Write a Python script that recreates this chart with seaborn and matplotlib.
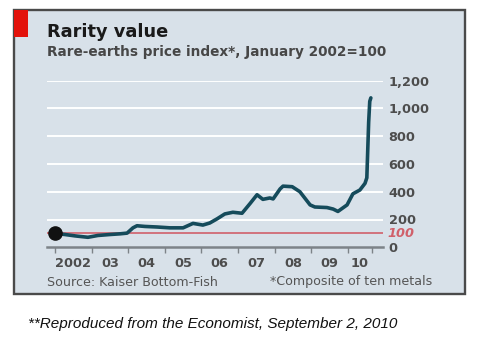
import matplotlib
matplotlib.use("Agg")
import matplotlib.pyplot as plt
import matplotlib.transforms as mtransforms
from matplotlib.patches import Rectangle
import seaborn as sns
import pandas as pd

# Rare-earths price index (January 2002 = 100), read at irregular dates
dates = [2002.00, 2002.27, 2002.55, 2002.90, 2003.17, 2003.50, 2003.78, 2003.97,
         2004.13, 2004.24, 2004.46, 2004.79, 2005.14, 2005.50, 2005.77, 2006.04,
         2006.23, 2006.43, 2006.64, 2006.86, 2007.11, 2007.33, 2007.52, 2007.68,
         2007.87, 2007.96, 2008.15, 2008.23, 2008.48, 2008.69, 2008.97, 2009.10,
         2009.43, 2009.60, 2009.73, 2009.98, 2010.14, 2010.33, 2010.47, 2010.52,
         2010.57, 2010.60, 2010.63]
index_values = [100, 92, 82, 72, 85, 92, 97, 102,
                140, 155, 150, 146, 140, 140, 172, 160,
                175, 205, 240, 252, 245, 315, 378, 345,
                355, 348, 420, 440, 436, 400, 305, 290,
                286, 275, 258, 305, 385, 412, 460, 500,
                900, 1050, 1075]

year_starts = [2002, 2003, 2004, 2005, 2006, 2007, 2008, 2009, 2010]
data_end = 2010.65
year_labels = ["2002", "03", "04", "05", "06", "07", "08", "09", "10"]
y_ticks = [0, 200, 400, 600, 800, 1000, 1200]
y_tick_labels = ["0", "200", "400", "600", "800", "1,000", "1,200"]
base_value = 100

W, H = 479, 342
PANEL = "#d8e1e9"
LINE = "#154b5b"
RED = "#d0606a"
GREY_TXT = "#4d4d4d"

sns.set_theme(style="white")
plt.rcParams["font.family"] = ["DejaVu Sans"]

fig = plt.figure(figsize=(W / 100, H / 100), dpi=100, facecolor="white")


def fx(px):
    return px / W


def fy(py):
    return 1 - py / H


# framed panel with red corner tab
fig.patches.append(Rectangle((fx(14), fy(294)), fx(451), (294 - 10) / H,
                             transform=fig.transFigure, facecolor=PANEL,
                             edgecolor="#4a4a4a", linewidth=1.7, zorder=-2))
fig.patches.append(Rectangle((fx(14), fy(37)), fx(14), 27 / H,
                             transform=fig.transFigure, facecolor="#e3120b",
                             edgecolor="none", zorder=-1))

ax = fig.add_axes([fx(47), fy(247.3), (383 - 47) / W, (247.3 - 80.5) / H])
ax.set_facecolor("none")
ax.set_zorder(1)

df = pd.DataFrame({"year": dates, "index": index_values})

# gridlines
for v in y_ticks[1:]:
    ax.axhline(v, color="white", lw=1.4, zorder=1)
ax.axhline(base_value, color=RED, lw=1.2, zorder=2)

sns.lineplot(data=df, x="year", y="index", ax=ax, color=LINE, lw=2.6,
             zorder=4, solid_joinstyle="round", solid_capstyle="round")
ax.plot([dates[0]], [index_values[0]], "o", color="#111111", ms=9.5, zorder=5,
        clip_on=False)

ax.set_xlim(2002 - 8 / 36.6, 2002 + 328 / 36.6)
ax.set_ylim(0, 1200)

for s in ["top", "left", "right"]:
    ax.spines[s].set_visible(False)
ax.spines["bottom"].set_color("#7d8388")
ax.spines["bottom"].set_linewidth(1.8)
ax.spines["bottom"].set_zorder(3)

# x axis: ticks at year boundaries, labels centred within each year
ax.set_xticks(year_starts + [data_end])
ax.set_xticklabels([])
mids = [(a + b) / 2 for a, b in zip(year_starts, year_starts[1:] + [data_end])]
ax.set_xticks(mids, minor=True)
ax.set_xticklabels(year_labels, minor=True, fontsize=9.3, fontweight="bold",
                   color=GREY_TXT)
ax.tick_params(axis="x", which="major", length=4, width=1, color="#7d8388",
               direction="out", bottom=True)
ax.tick_params(axis="x", which="minor", length=0, pad=7, bottom=True)
ax.set_xlabel("")
ax.set_ylabel("")

# y axis on the right
ax.yaxis.tick_right()
ax.set_yticks(y_ticks)
ax.set_yticklabels(y_tick_labels, fontsize=9.3, fontweight="bold", color=GREY_TXT)
ax.tick_params(axis="y", length=0, pad=4)
trans = mtransforms.blended_transform_factory(ax.transAxes, ax.transData)
ax.text(1 + 4.5 / 336, base_value, "100", transform=trans, ha="left",
        va="center", fontsize=9.3, fontweight="bold", style="italic", color=RED)

# titles and notes
fig.text(fx(47), fy(37), "Rarity value", fontsize=12.8, fontweight="bold",
         color="#1a1a1a", va="baseline", ha="left")
fig.text(fx(47), fy(56), "Rare-earths price index*, January 2002=100",
         fontsize=9.85, fontweight="bold", color="#474747", va="baseline",
         ha="left")
fig.text(fx(47), fy(282), "Source: Kaiser Bottom-Fish", fontsize=9.1,
         color="#555555", va="center", ha="left")
fig.text(fx(432), fy(282), "*Composite of ten metals", fontsize=9.1,
         color="#555555", va="center", ha="right")
fig.text(fx(28), fy(324), "**Reproduced from the Economist, September 2, 2010",
         fontsize=11, style="italic", family=["Liberation Sans", "DejaVu Sans"],
         color="#111111", va="center", ha="left")

fig.savefig("out.png", dpi=100, facecolor="white")
